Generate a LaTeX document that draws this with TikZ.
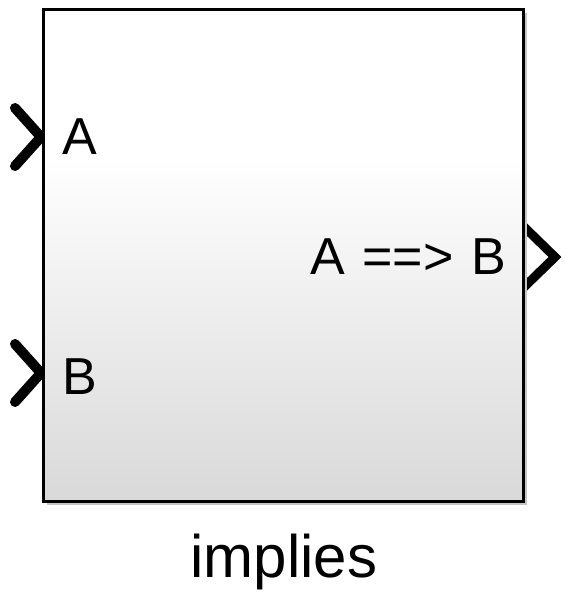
\documentclass[tikz,border=0pt]{standalone}
\usepackage{fontspec}
\setmainfont{Liberation Sans}
\usetikzlibrary{positioning}
\definecolor{blockgray}{gray}{0.85}
\pgfdeclareverticalshading{blockfill}{100bp}{color(0bp)=(blockgray); color(25bp)=(blockgray); color(60bp)=(white); color(100bp)=(white)}

\begin{document}
\begin{tikzpicture}[x=1pt,y=-1pt,
  blockbox/.style={draw=black,line width=2.7pt,shading=blockfill,minimum width=480pt,minimum height=492pt,inner sep=0pt},
  portlabel/.style={inner sep=0pt,font=\fontsize{52}{60}\selectfont},
  inport/.style={line width=10pt,line cap=round,line join=round},
  outport/.style={line width=9pt,line join=miter}]
\useasboundingbox (0,0) rectangle (565,597);
\draw[inport] (15,108)--(41,137)--(15,166);
\draw[inport] (15,344)--(41,373)--(15,402);
\draw[outport] (518,221)--(555,257)--(518,293);
\fill[gray!45] (46.5,12.5) rectangle (526.5,504.5);
\node[blockbox] (implies) at (283.5,255.5) {};
\node[portlabel,anchor=base west] (inA) at (62,154) {A};
\node[portlabel,anchor=base west] (inB) at (62,394) {B};
\node[portlabel,anchor=base east] (outAB) at (506,274) {A\hspace{3pt} ==>\hspace{3pt} B};
\node[inner sep=0pt,font=\fontsize{60}{70}\selectfont,anchor=base] (name) at (284,577) {implies};
\end{tikzpicture}
\end{document}
